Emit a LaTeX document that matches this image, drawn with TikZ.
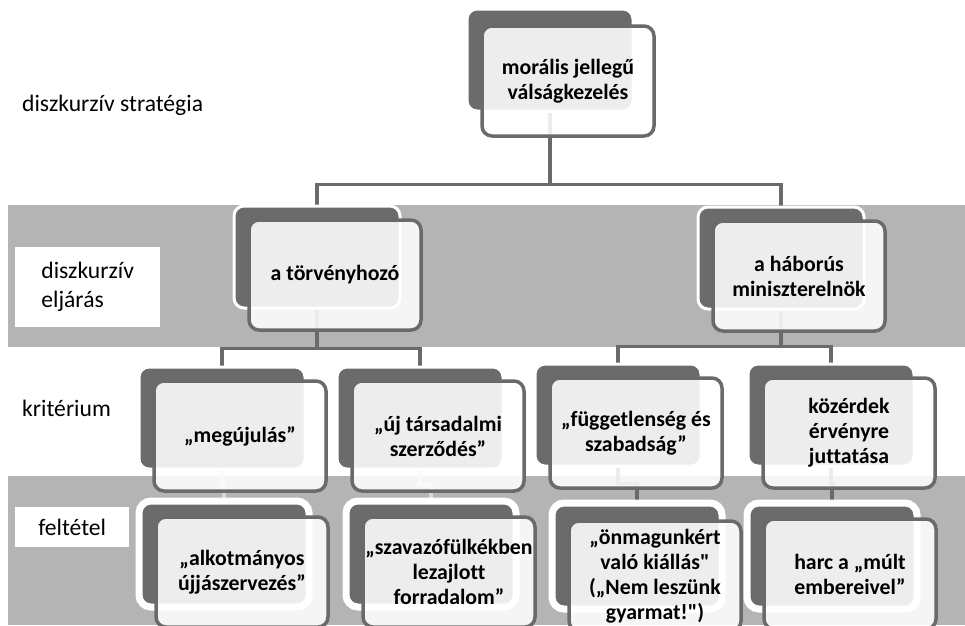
\documentclass[tikz,border=0pt]{standalone}
\usepackage{fontspec}
\setmainfont{Carlito}[Ligatures={TeXOff,NoCommon}]
\usepackage{tikz}
\usetikzlibrary{positioning}
\pgfdeclarelayer{band}
\pgfdeclarelayer{link}
\pgfsetlayers{band,link,main}
\definecolor{boxdark}{HTML}{6B6B6B}
\definecolor{rimgray}{HTML}{6A6A6A}
\definecolor{bandgray}{HTML}{B4B4B4}

\begin{document}
\begin{tikzpicture}[x=1pt, y=-1pt,
    back/.style={rectangle, draw=white, line width=3pt, fill=boxdark, rounded corners=10pt, minimum width=166pt, minimum height=102pt, inner sep=0pt},
    back4/.style={back, preaction={draw=white, line width=11pt}},
    front/.style={rectangle, draw=rimgray, line width=3.5pt, fill=white, fill opacity=0.88, text opacity=1, rounded corners=10pt, text width=170pt, inner xsep=1pt, inner ysep=0pt, minimum height=110pt, align=flush center, font=\fontsize{21.8}{25}\selectfont\bfseries},
    lvl/.style={anchor=west, inner sep=0pt, font=\fontsize{23.6}{29}\selectfont},
    lvlbox/.style={anchor=north west, fill=white, inner xsep=14pt, inner ysep=0pt, align=left, font=\fontsize{23.6}{29}\selectfont},
    link/.style={draw=rimgray, line width=3.2pt},
    faint/.style={link, draw=black!15}]
    \useasboundingbox (0,0) rectangle (965,625);

    % level names
    \node[lvl] (strategia) at (22,105) {diszkurzív stratégia};
    \node[lvlbox, minimum width=145pt, minimum height=80pt] (eljaras) at (15,247) {diszkurzív\\eljárás};
    \node[lvl] (kriterium) at (22,408) {kritérium};
    \node[lvlbox, minimum width=114pt, minimum height=40pt] (feltetel) at (15,507) {feltétel};

    % boxes
    \node[back] (strat0) at (550,60) {};
    \node[front] (strat) at ([shift={(18,21)}]strat0) {morális jellegű\\válságkezelés};

    \node[back] (torv0) at (317,257) {};
    \node[front] (torv) at ([shift={(18,18)}]torv0) {a törvényhozó};
    \node[back] (hab0) at (781,258) {};
    \node[front] (hab) at ([shift={(18,18)}]hab0) {a háborús\\miniszterelnök};

    \node[back] (meg0) at (222,418) {};
    \node[front] (meg) at ([shift={(18,18)}]meg0) {„megújulás”};
    \node[back] (uj0) at (420,418) {};
    \node[front] (uj) at ([shift={(18,18)}]uj0) {„új társadalmi\\szerződés”};
    \node[back] (fugg0) at (618,415) {};
    \node[front] (fugg) at ([shift={(18,18)}]fugg0) {„függetlenség és\\szabadság”};
    \node[back] (kozerd0) at (831,415) {};
    \node[front] (kozerd) at ([shift={(18,18)}]kozerd0) {közérdek\\érvényre\\juttatása};

    \node[back4] (alk0) at (224,554) {};
    \node[front] (alk) at ([shift={(18,18)}]alk0) {„alkotmányos\\újjászervezés”};
    \node[back4] (szav0) at (431,554) {};
    \node[front] (szav) at ([shift={(18,18)}]szav0) {„szavazófülkékben\\lezajlott\\forradalom”};
    \node[back4] (onm0) at (637,556) {};
    \node[front] (onm) at ([shift={(18,20)}]onm0) {„önmagunkért\\való kiállás"\\(„Nem leszünk\\gyarmat!")};
    \node[back4] (harc0) at (832,556) {};
    \node[front] (harc) at ([shift={(18,18)}]harc0) {harc a „múlt\\embereivel”};

    \begin{pgfonlayer}{band}
        \fill[bandgray] (8,205) rectangle (965,347);
        \fill[bandgray] (8,476) rectangle (965,625);
    \end{pgfonlayer}

    \begin{pgfonlayer}{link}
        \draw[link] (strat0.south) -- ++(0,72) coordinate (j0) -| (torv0.north);
        \draw[link] (j0) -| (hab0.north);
        \draw[link] (torv0.south) -- ++(0,39) coordinate (j1) -| (meg0.north);
        \draw[link] (j1) -| (uj0.north);
        \draw[link] (hab0.south) -- ++(0,36) coordinate (j2) -| (fugg0.north);
        \draw[link] (j2) -| (kozerd0.north);
        \draw[faint] (meg0.south) -- ++(0,14) -| (alk0.north);
        \draw[faint] (uj0.south) -- ++(0,14) -| (szav0.north);
        \draw[link] (fugg0.south) -- ++(0,16) -| (onm0.north);
        \draw[link] (kozerd0.south) -- ++(0,16) -| (harc0.north);
    \end{pgfonlayer}
\end{tikzpicture}
\end{document}
